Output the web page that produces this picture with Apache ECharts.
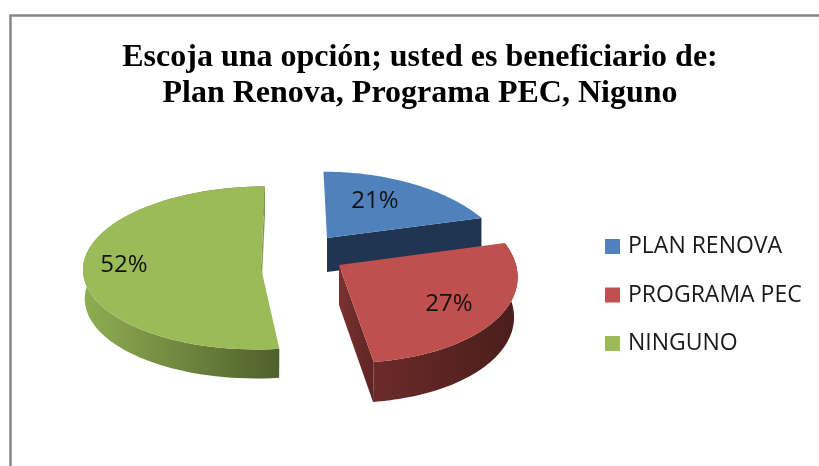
<!DOCTYPE html>
<html>
<head>
<meta charset="utf-8">
<style>html,body{margin:0;padding:0;background:#fff}#c{width:819px;height:466px}</style>
<script src="https://cdn.jsdelivr.net/npm/echarts@6/dist/echarts.min.js"></script>
</head>
<body>
<div id="c"></div>
<script>
var titleLines = ['Escoja una opción; usted es beneficiario de:', 'Plan Renova, Programa PEC, Niguno'];
var categories = ['PLAN RENOVA', 'PROGRAMA PEC', 'NINGUNO'];
var percents = [21, 27, 52];
var colors = ['#4f81bd', '#c0504d', '#9bbb59'];

// Projection of each exploded slice (layout only, angles come from percents)
var sliceLayout = [
  {ax: 327, ay: 238, R: 173, ry: 87, sh: 4.6, k: 0.312, h: 34, b: 1, label: [48, -37],
   wall: null, cut: ['#1f3552', '#1f3552']},
  {ax: 339, ay: 265, R: 177, ry: 90, sh: 9.9, k: 0.079, h: 40, b: 0.98, label: [110, 39],
   wall: ['#6b2b29', '#4a1d1c'], cut: ['#7a3230', '#5e2523']},
  {ax: 261, ay: 268, R: 178, ry: 81.5, sh: -4, k: 0, h: 29, b: 0.99, label: [-137, -3],
   wall: ['#8fae52', '#4e602c'], cut: ['#7f9b48', '#7f9b48']}
];
var drawOrder = [0, 2, 1];

var total = percents.reduce(function (a, b) { return a + b; }, 0);
function startAngle(i) {
  var s = 0;
  for (var j = 0; j < i; j++) s += percents[j];
  return s / total * 2 * Math.PI;
}
function project(g, th, r, low) {
  var X = Math.sin(th) * r, Z = -Math.cos(th) * r, w = 1 - g.k * Z;
  var f = low ? g.b : 1;
  return [g.ax + (g.R * X + g.sh * Z) / w * f, g.ay + g.ry * Z / w + (low ? g.h : 0)];
}
function grad(c) {
  return new echarts.graphic.LinearGradient(0, 0, 1, 0, [{offset: 0, color: c[0]}, {offset: 1, color: c[1]}]);
}
function renderSlice(i) {
  return function (params, api) {
    var g = sliceLayout[i];
    var a0 = startAngle(i), a1 = a0 + api.value(0) / total * 2 * Math.PI;
    var arcTop = [], arcLow = [], n = 72;
    for (var t = 0; t <= n; t++) {
      var th = a0 + (a1 - a0) * t / n;
      arcTop.push(project(g, th, 1, false));
      arcLow.push(project(g, th, 1, true));
    }
    var apex = project(g, a0, 0, false), apexLow = project(g, a0, 0, true);
    var endTop = arcTop[n], endLow = arcLow[n];
    var children = [];
    if (g.wall) {
      children.push({type: 'polygon', shape: {points: arcTop.concat(arcLow.slice().reverse())}, style: {fill: grad(g.wall)}});
    }
    children.push(
      {type: 'polygon', shape: {points: [apex, endTop, endLow, apexLow]}, style: {fill: grad(g.cut)}},
      {type: 'polygon', shape: {points: [apex].concat(arcTop)}, style: {fill: colors[i]}},
      {type: 'text', style: {
        x: g.ax + g.label[0], y: g.ay + g.label[1], text: api.value(0) + '%',
        fill: '#111', font: '24px "Open Sans"', textAlign: 'center', textVerticalAlign: 'middle'
      }}
    );
    return {type: 'group', children: children};
  };
}

var chart = echarts.init(document.getElementById('c'), null, {renderer: 'canvas'});
chart.setOption({
  animation: false,
  backgroundColor: '#ffffff',
  color: colors,
  title: {
    text: titleLines.join('\n'),
    left: 415, top: 35, textAlign: 'center',
    textStyle: {fontFamily: '"Liberation Serif"', fontWeight: 'bold', fontSize: 32, lineHeight: 36, color: '#000'}
  },
  legend: {
    orient: 'vertical', left: 600, top: 230, itemWidth: 15, itemHeight: 15, itemGap: 25.5, icon: 'rect',
    data: categories, selectedMode: false,
    textStyle: {fontFamily: '"Open Sans"', fontSize: 23, color: '#1a1a1a', padding: [0, 0, 0, 3]}
  },
  graphic: [
    {type: 'polyline', silent: true, shape: {points: [[10.5, 466], [10.5, 15.5], [819, 15.5]]},
     style: {stroke: '#868686', lineWidth: 2.5, fill: null}}
  ],
  series: drawOrder.map(function (i) {
    return {
      type: 'custom', name: categories[i], coordinateSystem: 'none',
      itemStyle: {color: colors[i]},
      renderItem: renderSlice(i), data: [[percents[i]]]
    };
  })
});
</script>
</body>
</html>
